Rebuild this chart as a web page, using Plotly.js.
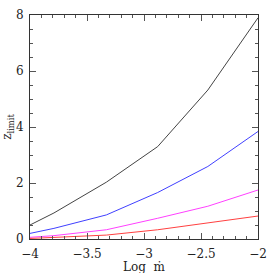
<!DOCTYPE html>
<html><head><meta charset="utf-8">
<script src="https://cdn.plot.ly/plotly-3.0.1.min.js"></script>
<style>html,body{margin:0;padding:0;background:#fff}</style>
</head><body><div id="c" style="width:273px;height:273px"></div>
<script>
const logMdot = [-4, -3.79, -3.33, -2.88, -2.44, -2];
const zBlack = [0.5, 0.93, 2.03, 3.30, 5.32, 7.9];
const zBlue = [0.2, 0.38, 0.86, 1.66, 2.59, 3.84];
const zMagenta = [0.06, 0.12, 0.33, 0.74, 1.17, 1.75];
const zRed = [0.02, 0.05, 0.14, 0.33, 0.57, 0.82];
const xTicks = [-4, -3.5, -3, -2.5, -2];
const xTickText = ['\u22124', '\u22123.5', '\u22123', '\u22122.5', '\u22122'];
const yTicks = [0, 2, 4, 6, 8];

const mk = (y, c) => ({x: logMdot, y: y, type: 'scatter', mode: 'lines', line: {color: c, width: 1}, hoverinfo: 'skip'});
const data = [mk(zBlack, '#444'), mk(zBlue, '#4040ff'), mk(zMagenta, '#ff40ff'), mk(zRed, '#ff4040')];
const font = {family: 'DejaVu Serif, Liberation Serif, serif', size: 12, color: '#222'};
const axisCommon = {
  showgrid: false, zeroline: false, showline: true, linecolor: '#333', linewidth: 1,
  mirror: 'ticks', ticks: 'inside', ticklen: 6, tickcolor: '#555', tickwidth: 1,
  tickfont: font
};
const layout = {
  width: 273, height: 273,
  margin: {l: 29.5, r: 15, t: 15, b: 34},
  paper_bgcolor: '#fff', plot_bgcolor: '#fff',
  showlegend: false, font: font,
  xaxis: Object.assign({}, axisCommon, {
    range: [-4, -2], tickvals: xTicks, ticktext: xTickText, ticklabelstandoff: 4,
    minor: {dtick: 0.1, ticks: 'inside', ticklen: 3, tickcolor: '#555', showgrid: false},
    automargin: false
  }),
  yaxis: Object.assign({}, axisCommon, {
    range: [0, 8], tickvals: yTicks, ticklabelstandoff: 3,
    minor: {dtick: 0.5, ticks: 'inside', ticklen: 3, tickcolor: '#555', showgrid: false},
    automargin: false,
    title: {text: 'z<sub>limit</sub>', font: font, standoff: 2}
  }),
  annotations: [{
    text: 'Log  m\u0307', xref: 'paper', yref: 'paper', x: 0.5, y: -0.125,
    xanchor: 'center', yanchor: 'middle', showarrow: false, font: font
  }]
};
Plotly.newPlot('c', data, layout, {displayModeBar: false, staticPlot: true});
</script></body></html>
